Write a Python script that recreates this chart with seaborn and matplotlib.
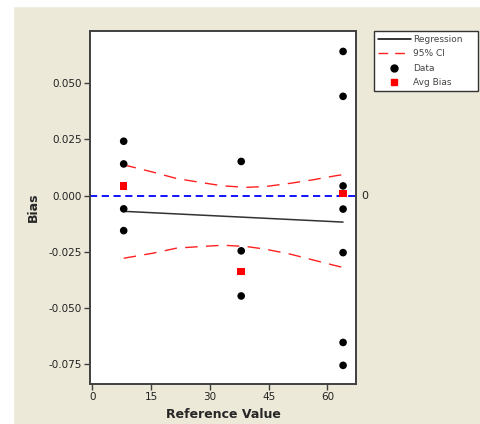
import numpy as np
import pandas as pd
import matplotlib
matplotlib.use("Agg")
import matplotlib.pyplot as plt
from matplotlib.patches import Rectangle
from matplotlib.lines import Line2D
import seaborn as sns

# bias data
ref_vals = [8, 8, 8, 8, 38, 38, 38, 64, 64, 64, 64, 64, 64, 64]
bias_vals = [0.0242, 0.0141, -0.0059, -0.0156,
             0.0152, -0.0246, -0.0447,
             0.0642, 0.0442, 0.0043, -0.0060, -0.0254, -0.0654, -0.0756]

avg_ref = [8, 38, 64]
avg_bias = [0.0042, -0.0338, 0.0009]

reg_x = [8, 64]
reg_y = [-0.0070, -0.0118]

ci_x = [8, 15.6, 21.5, 27.5, 33.4, 39.4, 44, 50.6, 56.2, 62.3, 64]
ci_upper = [0.0137, 0.0104, 0.0076, 0.0059, 0.0043, 0.0037, 0.0040, 0.0055, 0.0070, 0.0089, 0.0093]
ci_lower = [-0.0279, -0.0256, -0.0234, -0.0227, -0.0221, -0.0227, -0.0238, -0.0261, -0.0286, -0.0313, -0.0320]

x_ticks = [0, 15, 30, 45, 60]
y_ticks = [-0.075, -0.050, -0.025, 0.000, 0.025, 0.050]

sns.set_style("white")
plt.rcParams['font.family'] = ['DejaVu Sans']

bg = "#ece9d8"
fig = plt.figure(figsize=(4.8, 4.24), dpi=100, facecolor=bg)
# white strips along top and left edge
fig.add_artist(Rectangle((0, 1 - 6/424), 1, 6/424, transform=fig.transFigure, color="white", zorder=0))
fig.add_artist(Rectangle((0, 0), 13/480, 1, transform=fig.transFigure, color="white", zorder=0))

ax = fig.add_axes([90/480, 1 - 384/424, (356 - 90)/480, (384 - 31)/424])
ax.set_facecolor("white")

pts = pd.DataFrame({"ref": ref_vals, "bias": bias_vals})
avg = pd.DataFrame({"ref": avg_ref, "bias": avg_bias})
ci = pd.DataFrame({"ref": ci_x, "up": ci_upper, "lo": ci_lower})
reg = pd.DataFrame({"ref": reg_x, "bias": reg_y})

ax.axhline(0, color="#0000ff", lw=1.3, ls=(0, (4, 2.5)), zorder=1)
sns.lineplot(data=reg, x="ref", y="bias", ax=ax, color="#333333", lw=1.1, zorder=2)
sns.lineplot(data=ci, x="ref", y="up", ax=ax, color="#ff2020", lw=1.0, zorder=2)
sns.lineplot(data=ci, x="ref", y="lo", ax=ax, color="#ff2020", lw=1.0, zorder=2)
for l in ax.lines[-2:]:
    l.set_dashes((9, 6))
sns.scatterplot(data=pts, x="ref", y="bias", ax=ax, color="black", s=30, edgecolor="none", zorder=3)
sns.scatterplot(data=avg, x="ref", y="bias", ax=ax, color="#ff0000", marker="s", s=30, edgecolor="none", zorder=4)

ax.set_xlim(-0.6, 67.3)
ax.set_ylim(-0.0839, 0.0733)
ax.set_xticks(x_ticks)
ax.set_xticklabels([str(v) for v in x_ticks])
ax.set_yticks(y_ticks)
ax.set_yticklabels([f"{v:.3f}" for v in y_ticks])
ax.tick_params(axis="both", which="both", direction="out", length=4, width=1,
               color="#404040", labelsize=7.5, labelcolor="#222222", pad=2)
ax.tick_params(left=True, bottom=True)
for s in ax.spines.values():
    s.set_color("#404040")
    s.set_linewidth(1.4)

ax.set_xlabel("Reference Value", fontsize=9, fontweight="bold", labelpad=4)
ax.set_ylabel("Bias", fontsize=9, fontweight="bold", labelpad=6)

ax.text(1.02, 0, "0", transform=ax.get_yaxis_transform(), va="center", ha="left",
        fontsize=8, color="#222222")

handles = [
    Line2D([], [], color="black", lw=1.1),
    Line2D([], [], color="#ff2020", lw=1.0, dashes=(7, 5)),
    Line2D([], [], color="black", marker="o", ls="none", markersize=5),
    Line2D([], [], color="#ff0000", marker="s", ls="none", markersize=5),
]
labels = ["Regression", "95% CI", "Data", "Avg Bias"]
leg = fig.legend(handles, labels, loc="upper left",
                 bbox_to_anchor=(374/480, 1 - 93/424, 104/480, 62/424), mode="expand",
                 fontsize=6.5, frameon=True, fancybox=False, framealpha=1, handlelength=3.6,
                 handletextpad=0.3, borderpad=0.45, labelspacing=0.6, borderaxespad=0)
leg.get_frame().set_edgecolor("#333333")
leg.get_frame().set_linewidth(1.0)
leg.get_frame().set_facecolor("white")
for t in leg.get_texts():
    t.set_color("#444444")

fig.savefig("out.png", dpi=100, facecolor=bg)
